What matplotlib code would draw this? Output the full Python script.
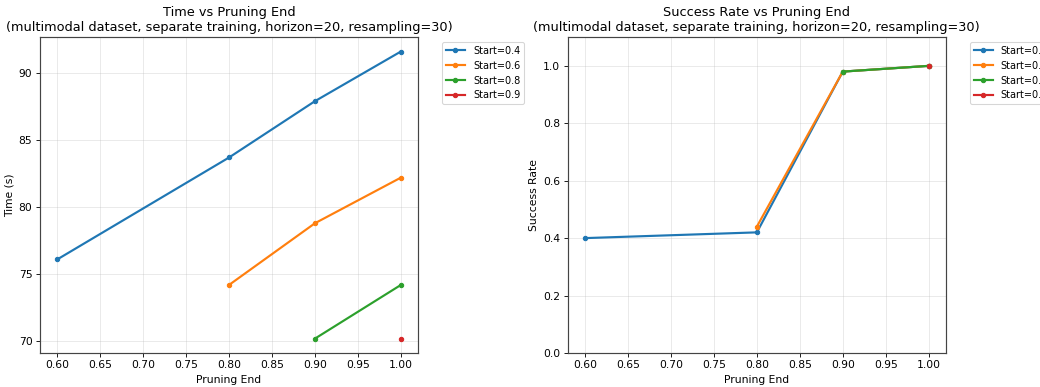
import numpy as np
import matplotlib
matplotlib.use("Agg")
import matplotlib.pyplot as plt

# pruning start values and the pruning end values tried for each
starts = [0.4, 0.6, 0.8, 0.9]
ends = {
    0.4: [0.6, 0.8, 0.9, 1.0],
    0.6: [0.8, 0.9, 1.0],
    0.8: [0.9, 1.0],
    0.9: [1.0],
}

# time in seconds
times = {
    0.4: [76.1, 83.7, 87.9, 91.6],
    0.6: [74.2, 78.8, 82.2],
    0.8: [70.2, 74.2],
    0.9: [70.2],
}

# success rate
success = {
    0.4: [0.40, 0.42, 0.98, 1.0],
    0.6: [0.44, 0.98, 1.0],
    0.8: [0.98, 1.0],
    0.9: [1.0],
}

subtitle = "(multimodal dataset, separate training, horizon=20, resampling=30)"

plt.rcParams['axes.edgecolor'] = '#444444'
plt.rcParams['axes.linewidth'] = 1.1

W = 13.4
dpi = 1040 / W
fig = plt.figure(figsize=(W, 387 / dpi), dpi=dpi)
ax1 = fig.add_axes([0.0385, 0.088, 0.3635, 0.816])
ax2 = fig.add_axes([0.546, 0.088, 0.3635, 0.816])

for s in starts:
    ax1.plot(ends[s], times[s], marker='o', linewidth=2, markersize=4, label=f"Start={s}")
    ax2.plot(ends[s], success[s], marker='o', linewidth=2, markersize=4, label=f"Start={s}")

ax1.set_title("Time vs Pruning End\n" + subtitle)
ax1.set_xlabel("Pruning End")
ax1.set_ylabel("Time (s)")
ax1.grid(True, alpha=0.3)
ax1.legend(bbox_to_anchor=(1.05, 1), loc='upper left', fontsize=9)

ax2.set_title("Success Rate vs Pruning End\n" + subtitle)
ax2.set_xlabel("Pruning End")
ax2.set_ylabel("Success Rate")
ax2.set_ylim(0, 1.1)
ax2.grid(True, alpha=0.3)
ax2.legend(bbox_to_anchor=(1.05, 1), loc='upper left', fontsize=9)

fig.savefig("out.png", dpi=dpi)
